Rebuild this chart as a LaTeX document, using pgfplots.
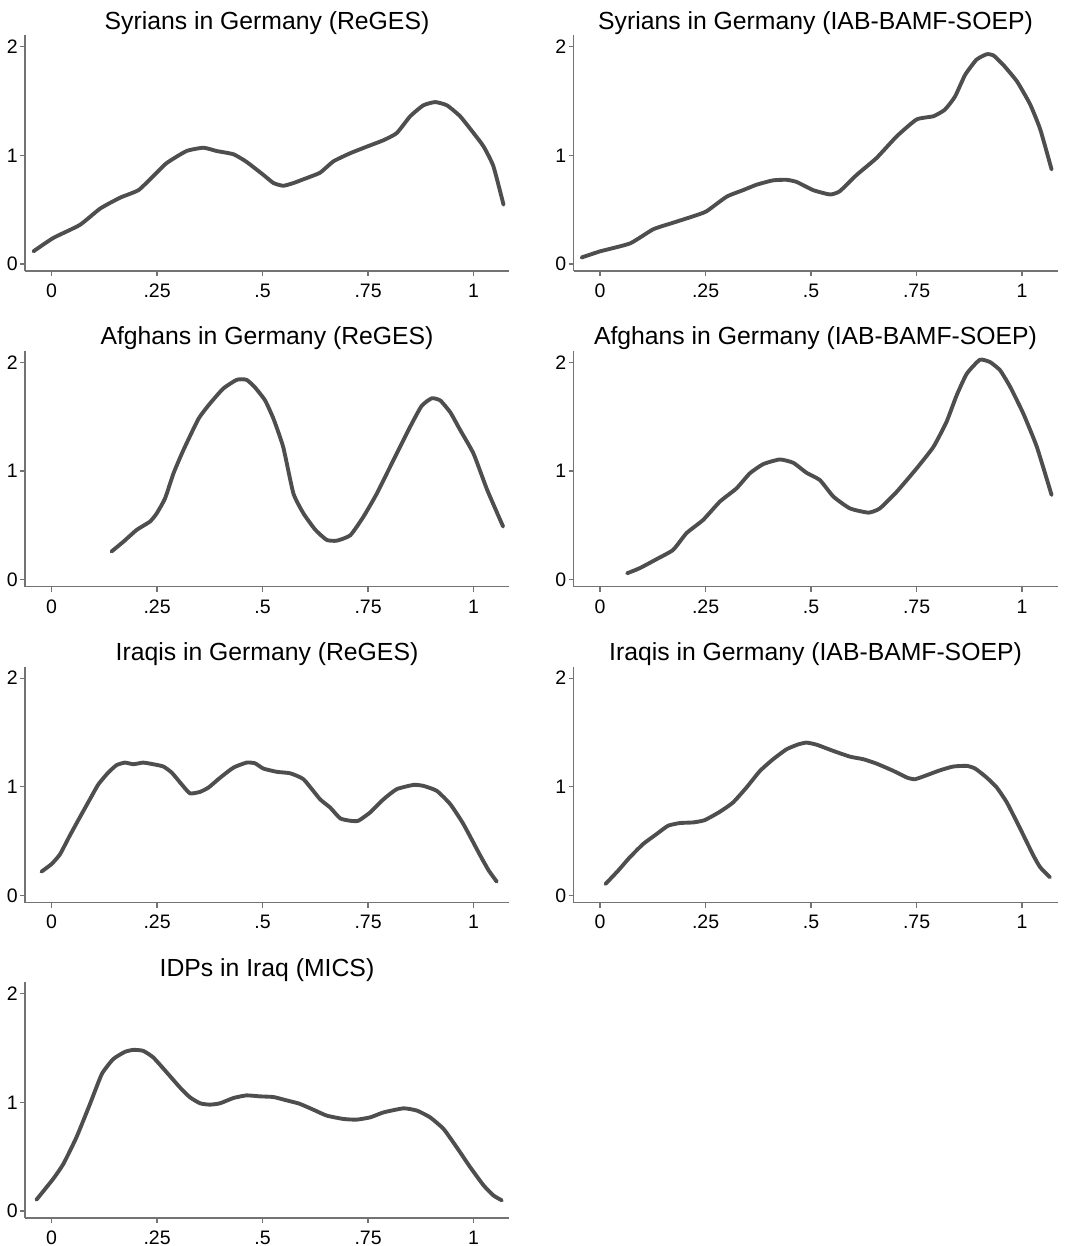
\documentclass[border=0pt]{standalone}
\usepackage{pgfplots}
\pgfplotsset{compat=1.18}
\usepackage{fontspec}
\setmainfont{Liberation Sans}
\definecolor{curve}{RGB}{78,78,78}
\definecolor{axisgray}{RGB}{115,115,115}
\pgfplotsset{
  panel/.style={
    scale only axis,
    width=193.6pt, height=94.4pt,
    xmin=-0.063, xmax=1.084,
    ymin=-0.064, ymax=2.107,
    axis x line=bottom, axis y line=left,
    axis line style={-, draw=axisgray, line width=0.5pt},
    tick style={draw=axisgray, line width=0.5pt},
    tick align=outside,
    major tick length=2pt,
    xtick={0,0.25,0.5,0.75,1},
    xticklabels={0,.25,.5,.75,1},
    ytick={0,1,2},
    yticklabels={0,1,2},
    ticklabel style={font=\fontsize{7.8}{9.2}\selectfont, text=black},
    xticklabel style={anchor=base, yshift=-8.5pt},
    yticklabel style={anchor=east, xshift=2.6pt},
    every axis title/.style={font=\fontsize{9.9}{11}\selectfont, at={(0.5,1)}, anchor=base, yshift=2.4pt},
    clip=false,
    anchor=south west,
  },
  dens/.style={draw=curve, line width=1.55pt, line join=round, line cap=round, mark=none, smooth, tension=0.3},
}
\begin{document}
\begin{tikzpicture}
\useasboundingbox (0,0) rectangle (432pt,-498.4pt);
% Row 1
\begin{axis}[panel, at={(10pt,-108.4pt)}, title={Syrians in Germany (ReGES)}]
\addplot[dens] coordinates {
(-0.043,0.117)(0.004,0.24)(0.067,0.36)(0.115,0.51)(0.162,0.61)(0.206,0.68)(0.241,0.81)(0.273,0.93)(0.32,1.04)(0.36,1.07)(0.391,1.04)(0.431,1.01)(0.462,0.94)(0.502,0.82)(0.526,0.745)(0.549,0.72)(0.573,0.745)(0.597,0.78)(0.636,0.84)(0.668,0.945)(0.708,1.02)(0.747,1.08)(0.787,1.14)(0.818,1.205)(0.85,1.36)(0.881,1.46)(0.909,1.49)(0.937,1.46)(0.968,1.36)(1.0,1.205)(1.024,1.08)(1.047,0.9)(1.071,0.546)};
\end{axis}
\begin{axis}[panel, at={(229.4pt,-108.4pt)}, title={Syrians in Germany (IAB-BAMF-SOEP)}]
\addplot[dens] coordinates {
(-0.044,0.06)(0.0,0.117)(0.071,0.19)(0.126,0.32)(0.173,0.38)(0.221,0.44)(0.252,0.485)(0.3,0.62)(0.339,0.68)(0.371,0.73)(0.41,0.77)(0.442,0.775)(0.466,0.755)(0.505,0.68)(0.545,0.64)(0.568,0.67)(0.608,0.82)(0.655,0.975)(0.703,1.175)(0.75,1.33)(0.79,1.36)(0.817,1.42)(0.841,1.54)(0.865,1.74)(0.892,1.88)(0.916,1.93)(0.932,1.92)(0.956,1.83)(0.988,1.68)(1.019,1.47)(1.043,1.24)(1.07,0.87)};
\end{axis}
% Row 2
\begin{axis}[panel, at={(10pt,-234.7pt)}, title={Afghans in Germany (ReGES)}]
\addplot[dens] coordinates {
(0.142,0.26)(0.17,0.35)(0.202,0.46)(0.233,0.535)(0.249,0.61)(0.269,0.75)(0.289,0.98)(0.312,1.19)(0.348,1.48)(0.375,1.62)(0.407,1.76)(0.439,1.84)(0.462,1.84)(0.482,1.77)(0.506,1.65)(0.526,1.48)(0.549,1.22)(0.573,0.795)(0.597,0.61)(0.625,0.46)(0.652,0.367)(0.676,0.36)(0.708,0.41)(0.739,0.58)(0.771,0.795)(0.81,1.1)(0.85,1.41)(0.877,1.6)(0.901,1.67)(0.921,1.65)(0.945,1.54)(0.968,1.38)(1.0,1.16)(1.032,0.83)(1.07,0.49)};
\end{axis}
\begin{axis}[panel, at={(229.4pt,-234.7pt)}, title={Afghans in Germany (IAB-BAMF-SOEP)}]
\addplot[dens] coordinates {
(0.064,0.06)(0.094,0.107)(0.134,0.19)(0.173,0.275)(0.205,0.43)(0.244,0.55)(0.284,0.72)(0.323,0.84)(0.355,0.98)(0.387,1.065)(0.426,1.107)(0.458,1.076)(0.489,0.985)(0.521,0.917)(0.553,0.765)(0.592,0.657)(0.636,0.618)(0.663,0.657)(0.703,0.81)(0.75,1.024)(0.79,1.223)(0.821,1.453)(0.845,1.697)(0.869,1.896)(0.9,2.024)(0.924,2.003)(0.948,1.927)(0.972,1.774)(1.003,1.529)(1.035,1.223)(1.07,0.78)};
\end{axis}
% Row 3
\begin{axis}[panel, at={(10pt,-361.0pt)}, title={Iraqis in Germany (ReGES)}]
\addplot[dens] coordinates {
(-0.024,0.22)(0.0,0.29)(0.02,0.38)(0.043,0.55)(0.067,0.72)(0.091,0.887)(0.111,1.024)(0.134,1.13)(0.154,1.2)(0.174,1.223)(0.194,1.208)(0.217,1.223)(0.241,1.208)(0.265,1.187)(0.285,1.13)(0.308,1.024)(0.328,0.94)(0.352,0.954)(0.372,0.994)(0.4,1.086)(0.431,1.177)(0.462,1.223)(0.482,1.217)(0.502,1.168)(0.534,1.138)(0.565,1.125)(0.597,1.07)(0.636,0.887)(0.66,0.81)(0.684,0.71)(0.708,0.688)(0.727,0.688)(0.755,0.765)(0.787,0.887)(0.818,0.979)(0.858,1.018)(0.881,1.009)(0.913,0.963)(0.945,0.84)(0.976,0.657)(1.016,0.367)(1.036,0.23)(1.055,0.128)};
\end{axis}
\begin{axis}[panel, at={(229.4pt,-361.0pt)}, title={Iraqis in Germany (IAB-BAMF-SOEP)}]
\addplot[dens] coordinates {
(0.013,0.107)(0.043,0.23)(0.07,0.35)(0.102,0.474)(0.134,0.566)(0.161,0.642)(0.189,0.667)(0.221,0.673)(0.248,0.694)(0.284,0.771)(0.315,0.856)(0.347,0.994)(0.379,1.147)(0.41,1.254)(0.442,1.346)(0.47,1.391)(0.489,1.407)(0.513,1.388)(0.553,1.33)(0.592,1.278)(0.624,1.254)(0.655,1.214)(0.695,1.147)(0.727,1.086)(0.746,1.07)(0.774,1.107)(0.806,1.153)(0.837,1.187)(0.869,1.193)(0.889,1.168)(0.916,1.086)(0.94,0.994)(0.964,0.856)(0.996,0.612)(1.027,0.367)(1.043,0.26)(1.066,0.168)};
\end{axis}
% Row 4
\begin{axis}[panel, at={(10pt,-487.2pt)}, title={IDPs in Iraq (MICS)}]
\addplot[dens] coordinates {
(-0.036,0.104)(0.004,0.297)(0.028,0.434)(0.059,0.679)(0.091,0.985)(0.119,1.26)(0.146,1.398)(0.174,1.465)(0.194,1.483)(0.217,1.474)(0.241,1.413)(0.273,1.275)(0.304,1.138)(0.328,1.046)(0.352,0.991)(0.375,0.979)(0.399,0.991)(0.431,1.04)(0.462,1.064)(0.494,1.055)(0.526,1.049)(0.557,1.018)(0.587,0.988)(0.62,0.933)(0.652,0.878)(0.692,0.847)(0.723,0.841)(0.755,0.862)(0.787,0.908)(0.834,0.945)(0.866,0.924)(0.897,0.862)(0.929,0.755)(0.96,0.587)(0.992,0.404)(1.024,0.235)(1.047,0.144)(1.067,0.098)};
\end{axis}
\end{tikzpicture}
\end{document}
